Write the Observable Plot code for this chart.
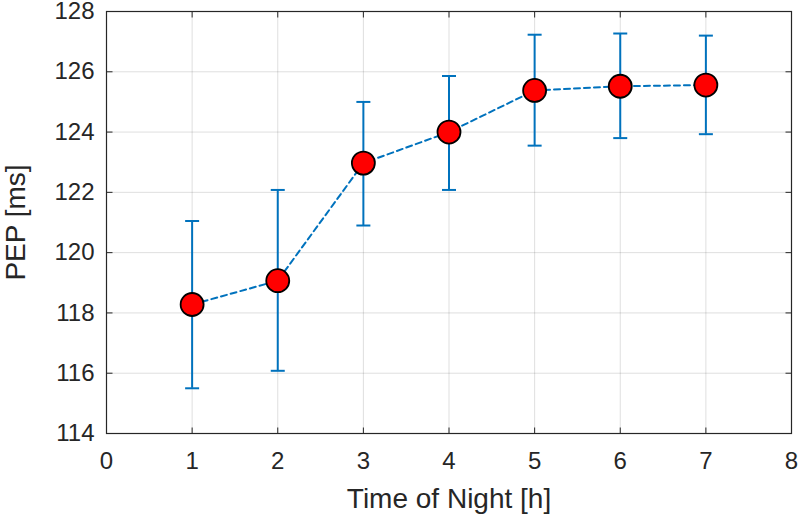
<!DOCTYPE html>
<html>
<head>
<meta charset="utf-8">
<script src="https://cdn.jsdelivr.net/npm/d3@7"></script>
<script src="https://cdn.jsdelivr.net/npm/@observablehq/plot@0.6"></script>
<style>
  html, body { margin: 0; padding: 0; background: #fff; }
  #chart svg { display: block; }
</style>
</head>
<body>
<div id="chart"></div>
<script>
// Data
const hours = [1, 2, 3, 4, 5, 6, 7];
const pep   = [118.28, 119.07, 122.97, 124.0, 125.38, 125.52, 125.56];
const upper = [121.05, 122.08, 125.0, 125.86, 127.23, 127.27, 127.2];
const lower = [115.5, 116.08, 120.9, 122.08, 123.55, 123.8, 123.93];

const xTicks = [0, 1, 2, 3, 4, 5, 6, 7, 8];
const yTicks = [114, 116, 118, 120, 122, 124, 126, 128];
const xLabel = "Time of Night [h]";
const yLabel = "PEP [ms]";

const data = hours.map((h, i) => ({hour: h, pep: pep[i], hi: upper[i], lo: lower[i]}));

const blue = "#0072BD";
const axisColor = "#262626";

// custom symbols
const capSymbol = {draw(ctx, size) { const r = Math.sqrt(size / Math.PI); ctx.moveTo(-r, 0); ctx.lineTo(r, 0); }};
const tickUp    = {draw(ctx, size) { const r = Math.sqrt(size / Math.PI); ctx.moveTo(0, 0); ctx.lineTo(0, -r); }};
const tickDown  = {draw(ctx, size) { const r = Math.sqrt(size / Math.PI); ctx.moveTo(0, 0); ctx.lineTo(0, r); }};
const tickRight = {draw(ctx, size) { const r = Math.sqrt(size / Math.PI); ctx.moveTo(0, 0); ctx.lineTo(r, 0); }};
const tickLeft  = {draw(ctx, size) { const r = Math.sqrt(size / Math.PI); ctx.moveTo(0, 0); ctx.lineTo(-r, 0); }};

const chart = Plot.plot({
  width: 800,
  height: 518,
  marginLeft: 106,
  marginRight: 9,
  marginTop: 11,
  marginBottom: 85,
  style: {fontFamily: "'Liberation Sans', Arial, sans-serif", fontSize: "24px", color: axisColor, background: "#fff", overflow: "visible"},
  x: {domain: [0, 8], axis: null},
  y: {domain: [114, 128], axis: null},
  marks: [
    Plot.gridX(xTicks, {stroke: "#000", strokeOpacity: 0.13, strokeWidth: 1}),
    Plot.gridY(yTicks, {stroke: "#000", strokeOpacity: 0.13, strokeWidth: 1}),
    // inward ticks
    Plot.dot(xTicks, {x: d => d, frameAnchor: "bottom", symbol: tickUp, r: 6, stroke: axisColor, strokeWidth: 1, fill: "none"}),
    Plot.dot(xTicks, {x: d => d, frameAnchor: "top", symbol: tickDown, r: 6, stroke: axisColor, strokeWidth: 1, fill: "none"}),
    Plot.dot(yTicks, {y: d => d, frameAnchor: "left", symbol: tickRight, r: 6, stroke: axisColor, strokeWidth: 1, fill: "none"}),
    Plot.dot(yTicks, {y: d => d, frameAnchor: "right", symbol: tickLeft, r: 6, stroke: axisColor, strokeWidth: 1, fill: "none"}),
    Plot.frame({stroke: axisColor, strokeWidth: 1.2}),
    Plot.text(xTicks, {x: d => d, text: d => String(d), frameAnchor: "bottom", lineAnchor: "top", dy: 18, fontSize: 24, fill: axisColor}),
    Plot.text(yTicks, {y: d => d, text: d => String(d), frameAnchor: "left", textAnchor: "end", dx: -12, fontSize: 24, fill: axisColor}),
    Plot.text([xLabel], {frameAnchor: "bottom", textAnchor: "middle", lineAnchor: "middle", dy: 66, fontSize: 28, fill: axisColor}),
    Plot.text([yLabel], {frameAnchor: "left", textAnchor: "middle", lineAnchor: "middle", dx: -90, rotate: -90, fontSize: 28, fill: axisColor}),
    // error bars
    Plot.ruleX(data, {x: "hour", y1: "lo", y2: "hi", stroke: blue, strokeWidth: 2}),
    Plot.dot(data, {x: "hour", y: "hi", symbol: capSymbol, r: 7, stroke: blue, strokeWidth: 2, fill: "none"}),
    Plot.dot(data, {x: "hour", y: "lo", symbol: capSymbol, r: 7, stroke: blue, strokeWidth: 2, fill: "none"}),
    Plot.line(data, {x: "hour", y: "pep", stroke: blue, strokeWidth: 2, strokeDasharray: "6,4"}),
    Plot.dot(data, {x: "hour", y: "pep", r: 11.5, fill: "#ff0000", stroke: "#000", strokeWidth: 1.8})
  ]
});

document.getElementById("chart").appendChild(chart);
</script>
</body>
</html>
